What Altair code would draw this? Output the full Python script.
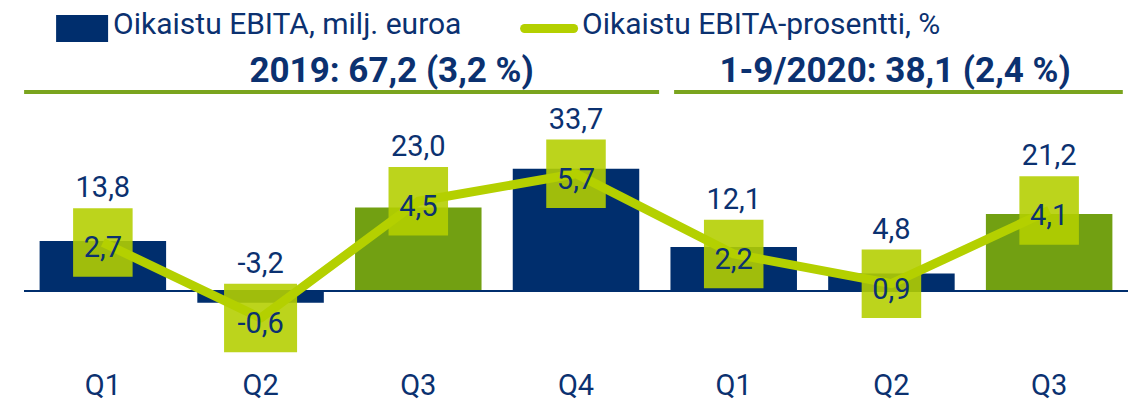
import altair as alt
import pandas as pd

# ---- data ----
quarters = ["Q1", "Q2", "Q3", "Q4", "Q1", "Q2", "Q3"]
years = ["2019", "2019", "2019", "2019", "2020", "2020", "2020"]
ebita = [13.8, -3.2, 23.0, 33.7, 12.1, 4.8, 21.2]
ebita_pct = [2.7, -0.6, 4.5, 5.7, 2.2, 0.9, 4.1]
legend_labels = ["Oikaistu EBITA, milj. euroa", "Oikaistu EBITA-prosentti, %"]
header_labels = ["2019: 67,2 (3,2 %)", "1-9/2020: 38,1 (2,4 %)"]


def fi(v):
    return f"{v:.1f}".replace(".", ",")


df = pd.DataFrame({
    "idx": list(range(len(quarters))),
    "quarter": quarters,
    "year": years,
    "ebita": ebita,
    "pct": ebita_pct,
    "ebita_lbl": [fi(v) for v in ebita],
    "pct_lbl": [fi(v) for v in ebita_pct],
})

# ---- styles ----
NAVY = "#002e6d"
TEXT = "#0b3170"
GREEN = "#72a012"
LIME = "#b4d000"
SQ = "#b4cf00"
RULE = "#7aa41e"
FONT = "Roboto"

W, H = 1114, 395

x_scale = alt.Scale(domain=[-0.5, 6.5], nice=False, zero=False)
bar_scale = alt.Scale(domain=[-30.85, 77.96], nice=False, zero=False)
pct_scale = alt.Scale(domain=[-4.310, 12.939], nice=False, zero=False)

X = alt.X("idx:Q", scale=x_scale, axis=None)

base = alt.Chart(df)

bars = base.mark_bar(width=126.5).encode(
    x=X,
    y=alt.Y("ebita:Q", scale=bar_scale, axis=None),
    y2=alt.Y2Datum(0),
    color=alt.when(alt.datum.quarter == "Q3").then(alt.value(GREEN)).otherwise(alt.value(NAVY)),
)

zero_rule = base.mark_rule(color=NAVY, strokeWidth=2).encode(
    x=alt.XDatum(-0.5, axis=None),
    x2=alt.X2Datum(6.5),
    y=alt.YDatum(0, axis=None),
)

bar_group = alt.layer(bars, zero_rule)

NARROW = "M-0.869,-1L0.869,-1L0.869,1L-0.869,1Z"
WIDE = "M-1.066,-1L1.066,-1L1.066,1L-1.066,1Z"

squares = base.mark_point(filled=True, color=SQ, fillOpacity=0.89, opacity=1,
                          strokeWidth=0, size=4692).encode(
    x=X,
    y=alt.Y("pct:Q", scale=pct_scale, axis=None),
    shape=alt.when(alt.datum.pct < 0).then(alt.value(WIDE)).otherwise(alt.value(NARROW)),
)

line = base.mark_line(color=LIME, strokeWidth=9, strokeJoin="round").encode(
    x=X,
    y=alt.Y("pct:Q", scale=pct_scale, axis=None),
)

pct_text = base.mark_text(font=FONT, fontSize=29, color=TEXT, dy=15,
                          baseline="alphabetic", align="center").encode(
    x=X,
    y=alt.Y("pct:Q", scale=pct_scale, axis=None),
    text="pct_lbl:N",
)

val_text = base.mark_text(font=FONT, fontSize=29, color=TEXT, dy=-45,
                          baseline="alphabetic", align="center").encode(
    x=X,
    y=alt.Y("pct:Q", scale=pct_scale, axis=None),
    text="ebita_lbl:N",
)

pct_group = alt.layer(squares, line, pct_text, val_text)

# category (tick) labels along the x scale
tick_labels = base.mark_text(font=FONT, fontSize=29, color=TEXT,
                             baseline="alphabetic", align="center").encode(
    x=X, y=alt.value(387), text="quarter:N",
)

# ---- headers ----
header_layers = []
header_x = [372.6, 876.1]
rule_x = [(5.1, 640.1), (655.1, 1103.8)]
for i, lab in enumerate(header_labels):
    hd = pd.DataFrame({"t": [lab]})
    header_layers.append(
        alt.Chart(hd).mark_text(font=FONT, fontSize=35, fontWeight="bold", color=TEXT,
                                align="center", baseline="alphabetic").encode(
            x=alt.value(header_x[i]), y=alt.value(74), text="t:N"))
    header_layers.append(
        alt.Chart(hd).mark_rule(color=RULE, strokeWidth=4).encode(
            x=alt.value(rule_x[i][0]), x2=alt.value(rule_x[i][1]), y=alt.value(84)))

# ---- legend ----
l0 = pd.DataFrame({"t": [legend_labels[0]]})
l1 = pd.DataFrame({"t": [legend_labels[1]]})
leg = [
    alt.Chart(l0).mark_rect(color=NAVY).encode(
        x=alt.value(37.1), x2=alt.value(89.1), y=alt.value(7), y2=alt.value(34)),
    alt.Chart(l0).mark_text(font=FONT, fontSize=30, color=TEXT, align="left",
                            baseline="alphabetic").encode(
        x=alt.value(94.1), y=alt.value(26), text="t:N"),
    alt.Chart(l1).mark_rule(color=LIME, strokeWidth=9, strokeCap="round").encode(
        x=alt.value(505.6), x2=alt.value(554.6), y=alt.value(20.5)),
    alt.Chart(l1).mark_text(font=FONT, fontSize=30, color=TEXT, align="left",
                            baseline="alphabetic").encode(
        x=alt.value(563.1), y=alt.value(26), text="t:N"),
]

chart = alt.layer(
    bar_group, pct_group, tick_labels, *header_layers, *leg
).resolve_scale(y="independent").properties(
    width=W, height=H,
    padding={"left": 11, "top": 0, "right": 0, "bottom": 0},
    autosize=alt.AutoSizeParams(type="none"),
).configure(font=FONT).configure_view(stroke="transparent", strokeWidth=0)

chart.save("out.html", embed_options={"renderer": "svg", "actions": False})
